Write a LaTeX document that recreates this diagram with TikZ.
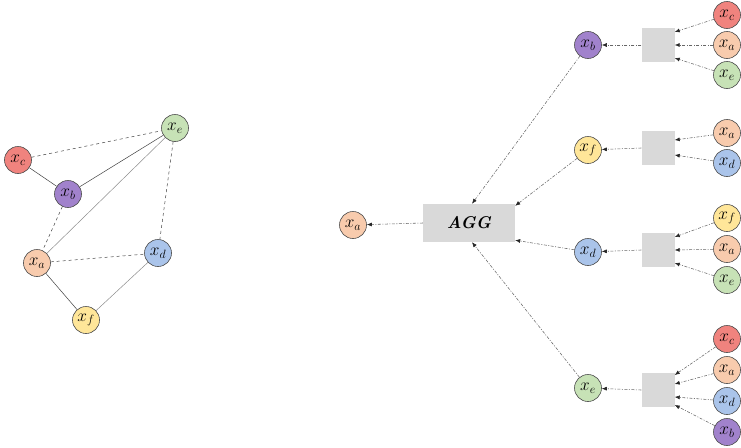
\documentclass[tikz,border=0pt]{standalone}
\usetikzlibrary{arrows.meta,calc}
\definecolor{cA}{HTML}{F8CBAD}
\definecolor{cB}{HTML}{A182CC}
\definecolor{cC}{HTML}{F0837E}
\definecolor{cD}{HTML}{AAC4EA}
\definecolor{cE}{HTML}{C7E2B6}
\definecolor{cF}{HTML}{FFE699}
\tikzset{
  gnode/.style={circle,draw=black!70,line width=0.6pt,minimum size=27pt,inner sep=0pt,
    font=\fontsize{18}{18}\selectfont},
  aggbox/.style={rectangle,fill=black!15,minimum width=92pt,minimum height=38pt,inner sep=0pt},
  sbox/.style={rectangle,fill=black!15,minimum width=33pt,minimum height=34pt,inner sep=0pt},
  gedge/.style={draw=black!75,line width=0.5pt},
  gedgel/.style={draw=black!45,line width=0.5pt},
  flow/.style={draw=black!60,line width=0.55pt,dash pattern=on 3pt off 1.5pt on 1pt off 1.5pt,
    -{Latex[length=5pt,width=4pt,color=black!85]}},
}
\begin{document}
\begin{tikzpicture}[x=1pt,y=-1pt]
\useasboundingbox (0,0) rectangle (741,447);

% ---- input graph ----
\node[gnode,fill=cC] (gc) at (18,160) {$x_c$};
\node[gnode,fill=cE] (ge) at (175,128) {$x_e$};
\node[gnode,fill=cB] (gb) at (68,194) {$x_b$};
\node[gnode,fill=cA] (ga) at (37,263) {$x_a$};
\node[gnode,fill=cD] (gd) at (158,253) {$x_d$};
\node[gnode,fill=cF] (gf) at (86,320) {$x_f$};

\draw[gedge,dashed] (gc) -- (ge);
\draw[gedge] (gc) -- (gb);
\draw[gedge] (gb) -- (ge);
\draw[gedge,dashed] (gb) -- (ga);
\draw[gedgel] (ga) -- (ge);
\draw[gedge,dashed] (ga) -- (gd);
\draw[gedge,dashed] (ge) -- (gd);
\draw[gedge] (ga) -- (gf);
\draw[gedgel] (gf) -- (gd);

% ---- aggregation tree ----
\node[gnode,fill=cA] (out) at (353,225) {$x_a$};
\node[aggbox] (agg) at (469,223) {\fontsize{17}{19}\selectfont\bfseries\itshape AGG};

\node[gnode,fill=cB] (mb) at (588,45) {$x_b$};
\node[gnode,fill=cF] (mf) at (588,150) {$x_f$};
\node[gnode,fill=cD] (md) at (588,252) {$x_d$};
\node[gnode,fill=cE] (me) at (588,388) {$x_e$};

\node[sbox] (sb) at (658,45) {};
\node[sbox] (sf) at (658,148) {};
\node[sbox] (sd) at (658,250) {};
\node[sbox] (se) at (658,390) {};

% neighbours of x_b
\node[gnode,fill=cC] (b1) at (727,15) {$x_c$};
\node[gnode,fill=cA] (b2) at (727,45) {$x_a$};
\node[gnode,fill=cE] (b3) at (727,75) {$x_e$};
% neighbours of x_f
\node[gnode,fill=cA] (f1) at (727,133) {$x_a$};
\node[gnode,fill=cD] (f2) at (727,163) {$x_d$};
% neighbours of x_d
\node[gnode,fill=cF] (d1) at (727,218) {$x_f$};
\node[gnode,fill=cA] (d2) at (727,249) {$x_a$};
\node[gnode,fill=cE] (d3) at (727,280) {$x_e$};
% neighbours of x_e
\node[gnode,fill=cC] (e1) at (727,339) {$x_c$};
\node[gnode,fill=cA] (e2) at (727,370) {$x_a$};
\node[gnode,fill=cD] (e3) at (727,401) {$x_d$};
\node[gnode,fill=cB] (e4) at (727,432) {$x_b$};

\draw[flow] (b1) -- ([yshift=13pt]sb.east);
\draw[flow] (b2) -- (sb.east);
\draw[flow] (b3) -- ([yshift=-13pt]sb.east);

\draw[flow] (f1) -- ([yshift=8pt]sf.east);
\draw[flow] (f2) -- ([yshift=-7pt]sf.east);

\draw[flow] (d1) -- ([yshift=13pt]sd.east);
\draw[flow] (d2) -- (sd.east);
\draw[flow] (d3) -- ([yshift=-13pt]sd.east);

\draw[flow] (e1) -- ([yshift=15pt]se.east);
\draw[flow] (e2) -- ([yshift=6pt]se.east);
\draw[flow] (e3) -- ([yshift=-7pt]se.east);
\draw[flow] (e4) -- ([yshift=-15pt]se.east);

\draw[flow] (sb.west) -- (mb);
\draw[flow] (sf.west) -- (mf);
\draw[flow] (sd.west) -- (md);
\draw[flow] (se.west) -- (me);

\draw[flow] (mb) -- ([xshift=3pt]agg.north);
\draw[flow] (mf) -- ([yshift=-2pt]agg.north east);
\draw[flow] (md) -- ([yshift=2pt]agg.south east);
\draw[flow] (me) -- ([xshift=3pt]agg.south);

\draw[flow] (agg.west) -- (out);
\end{tikzpicture}
\end{document}
